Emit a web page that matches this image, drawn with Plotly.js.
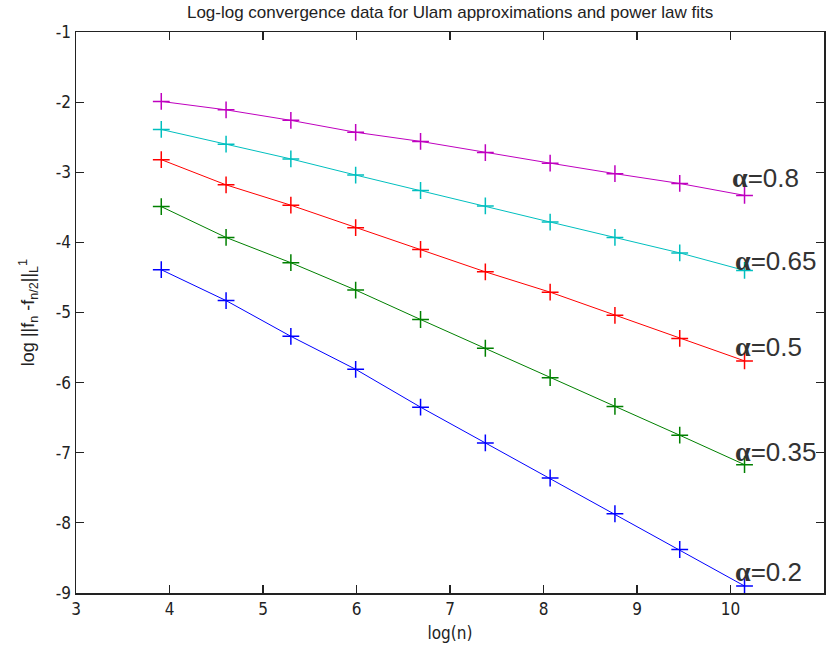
<!DOCTYPE html>
<html>
<head>
<meta charset="utf-8">
<script src="https://cdn.plot.ly/plotly-3.0.1.min.js"></script>
<style>html,body{margin:0;padding:0;background:#fff;}#chart{width:832px;height:650px;}</style>
</head>
<body>
<div id="chart"></div>
<script>
// log(n) values (n = 50, 100, ..., 25600)
const logN = [3.912, 4.605, 5.298, 5.991, 6.685, 7.378, 8.071, 8.764, 9.457, 10.150];

// log error for each alpha
const alphaLabels = ["α=0.8", "α=0.65", "α=0.5", "α=0.35", "α=0.2"];
const alpha08  = [-1.99, -2.11, -2.26, -2.43, -2.56, -2.72, -2.87, -3.02, -3.16, -3.33];
const alpha065 = [-2.39, -2.60, -2.81, -3.04, -3.26, -3.48, -3.71, -3.93, -4.15, -4.40];
const alpha05  = [-2.82, -3.18, -3.47, -3.79, -4.10, -4.42, -4.71, -5.04, -5.37, -5.69];
const alpha035 = [-3.49, -3.93, -4.29, -4.68, -5.10, -5.51, -5.93, -6.34, -6.75, -7.17];
const alpha02  = [-4.39, -4.83, -5.34, -5.81, -6.35, -6.86, -7.36, -7.87, -8.38, -8.90];

// label anchor positions (data coordinates)
const labelX = [9.99, 10.03, 10.03, 10.03, 10.03];
const labelY = [-3.08, -4.26, -5.48, -6.98, -8.69];

const xTicks = [3, 4, 5, 6, 7, 8, 9, 10, 11];
const yTicks = [-9, -8, -7, -6, -5, -4, -3, -2, -1];

const seriesY = [alpha08, alpha065, alpha05, alpha035, alpha02];
const colors = ["#BF00BF", "#00BFBF", "#FF0000", "#008000", "#0000FF"];

const NARROW = "Liberation Sans Narrow, DejaVu Sans Condensed, Liberation Sans, Arial, sans-serif";

const traces = seriesY.map((ys, i) => ({
  x: logN,
  y: ys,
  type: "scatter",
  mode: "lines+markers",
  line: {color: colors[i], width: 1},
  marker: {symbol: "cross-thin-open", size: 12, line: {color: colors[i], width: 1.5}},
  showlegend: false,
  hoverinfo: "skip"
}));

const annotations = alphaLabels.map((t, i) => {
  const parts = t.split("=");
  return {
    x: labelX[i], y: labelY[i], xref: "x", yref: "y",
    xanchor: "left", yanchor: "middle", showarrow: false,
    text: '<span style="font-family:\'Liberation Serif\';font-weight:bold;font-size:28px">' + parts[0] + '</span>=' + parts[1],
    font: {family: "Liberation Sans, Arial, sans-serif", size: 26, color: "#333"}
  };
});

const axisCommon = {
  showline: true, linecolor: "#222", linewidth: 1.5, mirror: "ticks",
  ticks: "inside", ticklen: 8, tickwidth: 1.2, tickcolor: "#222",
  showgrid: false, zeroline: false,
  tickfont: {family: NARROW, size: 17, color: "#222"}
};

const layout = {
  width: 832, height: 650,
  paper_bgcolor: "#fff", plot_bgcolor: "#fff",
  margin: {l: 76, r: 8, t: 32, b: 57},
  title: {
    text: "Log-log convergence data for Ulam approximations and power law fits",
    font: {family: "Liberation Sans, Arial, sans-serif", size: 17, color: "#222"},
    x: 0.541, xanchor: "center", y: 0.982, yanchor: "middle"
  },
  xaxis: Object.assign({}, axisCommon, {
    range: [3, 11], tickvals: xTicks, ticktext: xTicks.map(String),
    title: {text: "log(n)", font: {family: NARROW, size: 17, color: "#222"}, standoff: 9}
  }),
  yaxis: Object.assign({}, axisCommon, {
    range: [-9, -1], tickvals: yTicks, ticktext: yTicks.map(String),
    title: {text: "log ||f<sub>n</sub> -f<sub>n/2</sub>||<sub>L</sub><sup>1</sup>", font: {family: "Liberation Sans, Arial, sans-serif", size: 18, color: "#222"}, standoff: 16}
  }),
  annotations: annotations
};

Plotly.newPlot("chart", traces, layout, {staticPlot: true, displayModeBar: false});
</script>
</body>
</html>
